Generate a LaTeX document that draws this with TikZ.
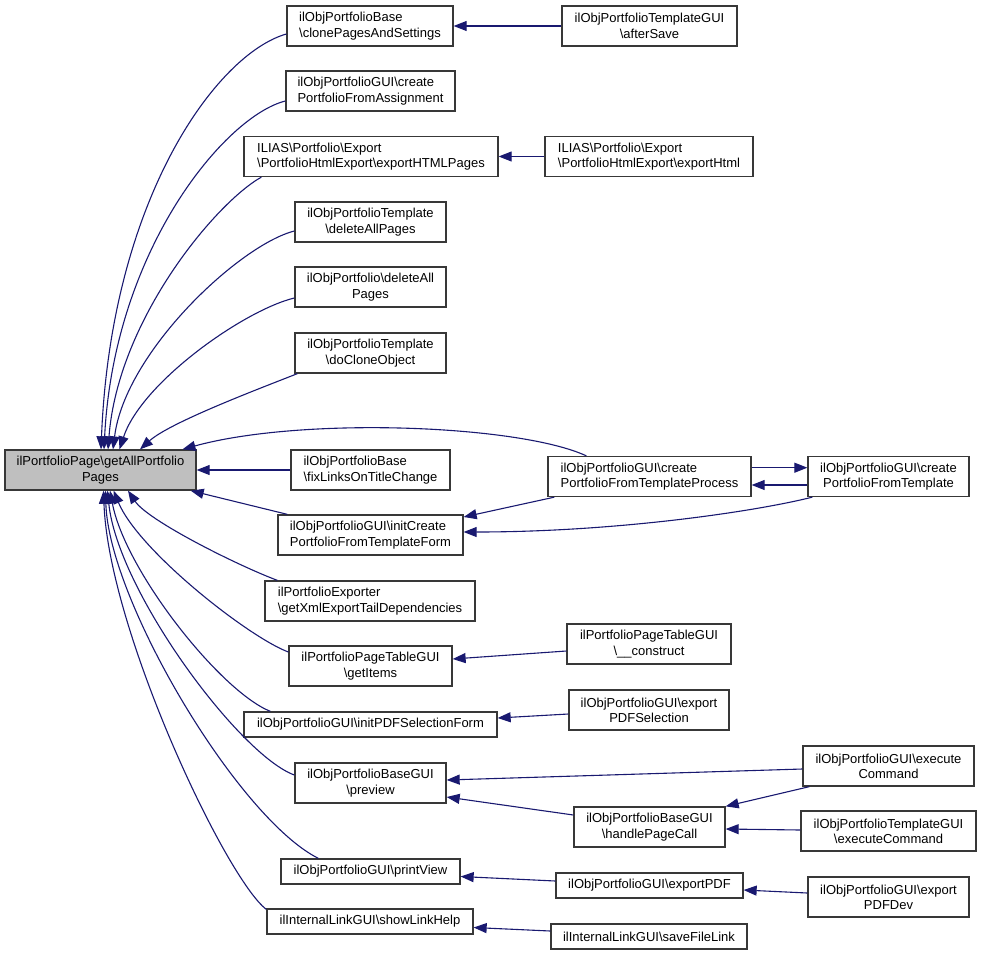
\documentclass[tikz,border=0pt]{standalone}
\usepackage{fontspec}
\setmainfont{Liberation Sans}
\usetikzlibrary{arrows.meta}
\definecolor{edgeblue}{RGB}{25,25,112}
\definecolor{maingray}{RGB}{191,191,191}
\newcommand{\bs}{\textbackslash}
\begin{document}
\begin{tikzpicture}[x=1pt,y=-1pt,
  box/.style={draw=black!78, line width=1.3pt, fill=white, inner sep=0pt, minimum height=40pt,
    font=\fontsize{13}{15.3}\selectfont},
  lbox/.style={box, align=left},
  cbox/.style={box, align=center},
  sbox/.style={box, minimum height=25pt},
  edge/.style={draw=edgeblue, line width=1.1pt, -{Triangle[length=13pt,width=10pt]}}]
\useasboundingbox (0,0) rectangle (981,955);

% main node
\node[cbox, fill=maingray, minimum width=191pt] (main) at (100.5,470) {ilPortfolioPage\bs getAllPortfolio\\Pages};

% first column
\node[lbox, minimum width=166pt] (A1) at (370,26) {ilObjPortfolioBase\\\bs clonePagesAndSettings};
\node[lbox, minimum width=169pt] (A2) at (370.5,91) {ilObjPortfolioGUI\bs create\\PortfolioFromAssignment};
\node[lbox, minimum width=254pt] (A3) at (371,156.5) {ILIAS\bs Portfolio\bs Export\\\bs PortfolioHtmlExport\bs exportHTMLPages};
\node[cbox, minimum width=151pt] (A4) at (370.5,222) {ilObjPortfolioTemplate\\\bs deleteAllPages};
\node[cbox, minimum width=151pt] (A5) at (370.5,287) {ilObjPortfolio\bs deleteAll\\Pages};
\node[cbox, minimum width=151pt] (A6) at (370.5,353) {ilObjPortfolioTemplate\\\bs doCloneObject};
\node[lbox, minimum width=159pt] (A7) at (370.5,470) {ilObjPortfolioBase\\\bs fixLinksOnTitleChange};
\node[lbox, minimum width=185pt] (A8) at (370.5,535) {ilObjPortfolioGUI\bs initCreate\\PortfolioFromTemplateForm};
\node[lbox, minimum width=210pt] (A9) at (370,601) {ilPortfolioExporter\\\bs getXmlExportTailDependencies};
\node[cbox, minimum width=163pt] (A10) at (370.5,666) {ilPortfolioPageTableGUI\\\bs getItems};
\node[sbox, minimum width=253pt] (A11) at (370.5,724.5) {ilObjPortfolioGUI\bs initPDFSelectionForm};
\node[cbox, minimum width=151pt] (A12) at (370.5,783) {ilObjPortfolioBaseGUI\\\bs preview};
\node[sbox, minimum width=179pt] (A13) at (370.5,871.5) {ilObjPortfolioGUI\bs printView};
\node[sbox, minimum width=206pt] (A14) at (370,921.5) {ilInternalLinkGUI\bs showLinkHelp};

% second column
\node[cbox, minimum width=175pt] (B1) at (649.5,26) {ilObjPortfolioTemplateGUI\\\bs afterSave};
\node[lbox, minimum width=208pt] (B2) at (649,156.5) {ILIAS\bs Portfolio\bs Export\\\bs PortfolioHtmlExport\bs exportHtml};
\node[lbox, minimum width=203pt] (B3) at (649.5,476.5) {ilObjPortfolioGUI\bs create\\PortfolioFromTemplateProcess};
\node[cbox, minimum width=164pt] (B5) at (649,644) {ilPortfolioPageTableGUI\\\bs \_\_construct};
\node[cbox, minimum width=160pt] (B6) at (649,710) {ilObjPortfolioGUI\bs export\\PDFSelection};
\node[cbox, minimum width=151pt] (B7) at (649.5,827) {ilObjPortfolioBaseGUI\\\bs handlePageCall};
\node[sbox, minimum width=187pt] (B8) at (649.5,885.5) {ilObjPortfolioGUI\bs exportPDF};
\node[sbox, minimum width=196pt] (B9) at (649,936.5) {ilInternalLinkGUI\bs saveFileLink};

% third column
\node[cbox, minimum width=161pt] (B4) at (888.5,476.5) {ilObjPortfolioGUI\bs create\\PortfolioFromTemplate};
\node[cbox, minimum width=171pt] (C1) at (888.5,766) {ilObjPortfolioGUI\bs execute\\Command};
\node[cbox, minimum width=175pt] (C2) at (888.5,831) {ilObjPortfolioTemplateGUI\\\bs executeCommand};
\node[cbox, minimum width=161pt] (C3) at (888.5,897) {ilObjPortfolioGUI\bs export\\PDFDev};

% edges into main (top)
\draw[edge] ([yshift=-8pt]A1.west) .. controls +(-70,20) and +(10,-250) .. ([xshift=0.5pt]main.north);
\draw[edge] ([yshift=-10pt]A2.west) .. controls +(-60,15) and +(10,-200) .. ([xshift=3.5pt]main.north);
\draw[edge] ([xshift=18pt]A3.south west) .. controls +(-45,25) and +(10,-130) .. ([xshift=7.5pt]main.north);
\draw[edge] ([yshift=-9pt]A4.west) .. controls +(-55,14) and +(12,-97) .. ([xshift=12.5pt]main.north);
\draw[edge] ([yshift=-11pt]A5.west) .. controls +(-50,12) and +(22,-67) .. ([xshift=19pt]main.north);
\draw[edge] ([xshift=3pt]A6.south west) .. controls +(-38,15) and +(30,-27) .. ([xshift=39.5pt]main.north);
\draw[edge] ([xshift=39pt]B3.north west) .. controls +(-67,-31) and +(120,-33) .. ([xshift=82pt]main.north);
\draw[edge] (A7.west) -- (main.east);
\draw[edge] ([xshift=10pt]A8.north west) -- ([xshift=-6pt]main.south east);
% edges into main (bottom)
\draw[edge] ([xshift=13pt]A9.north west) .. controls +(-40,-15) and +(20,30) .. ([xshift=27.5pt]main.south);
\draw[edge] ([yshift=14pt]A10.west) .. controls +(-40,-15) and +(25,60) .. ([xshift=13pt]main.south);
\draw[edge] ([xshift=27pt]A11.north west) .. controls +(-50,-20) and +(15,80) .. ([xshift=9.5pt]main.south);
\draw[edge] ([yshift=8pt]A12.west) .. controls +(-55,-20) and +(10,100) .. ([xshift=7pt]main.south);
\draw[edge] ([xshift=38pt]A13.north west) .. controls +(-80,-40) and +(3,110) .. ([xshift=5pt]main.south);
\draw[edge] ([yshift=-1pt]A14.north west) .. controls +(-40,-30) and +(5,140) .. ([xshift=3pt]main.south);

% other edges
\draw[edge] (B1.west) -- (A1.east);
\draw[edge] (B2.west) -- (A3.east);
\draw[edge] ([yshift=8.8pt]B3.east) -- ([yshift=8.8pt]B4.west);
\draw[edge] ([yshift=-8.5pt]B4.west) -- ([yshift=-8.5pt]B3.east);
\draw[edge] ([xshift=7pt]B3.south west) -- ([yshift=18pt]A8.east);
\draw[edge] ([xshift=5pt]B4.south west) .. controls +(-60,15) and +(150,0) .. ([yshift=3pt]A8.east);
\draw[edge] ([yshift=-7pt]B5.west) -- ([yshift=7pt]A10.east);
\draw[edge] ([yshift=-4pt]B6.west) -- ([yshift=6.5pt]A11.east);
\draw[edge] ([yshift=-3pt]C1.west) -- ([yshift=3pt]A12.east);
\draw[edge] ([yshift=12pt]B7.west) -- ([yshift=-14pt]A12.east);
\draw[edge] ([xshift=7pt]C1.south west) -- (B7.north east);
\draw[edge] ([yshift=1pt]C2.west) -- ([yshift=-2pt]B7.east);
\draw[edge] ([yshift=4.5pt]B8.west) -- ([yshift=-5pt]A13.east);
\draw[edge] ([yshift=4pt]C3.west) -- ([yshift=-4.5pt]B8.east);
\draw[edge] ([yshift=5.5pt]B9.west) -- ([yshift=-6pt]A14.east);
\end{tikzpicture}
\end{document}
